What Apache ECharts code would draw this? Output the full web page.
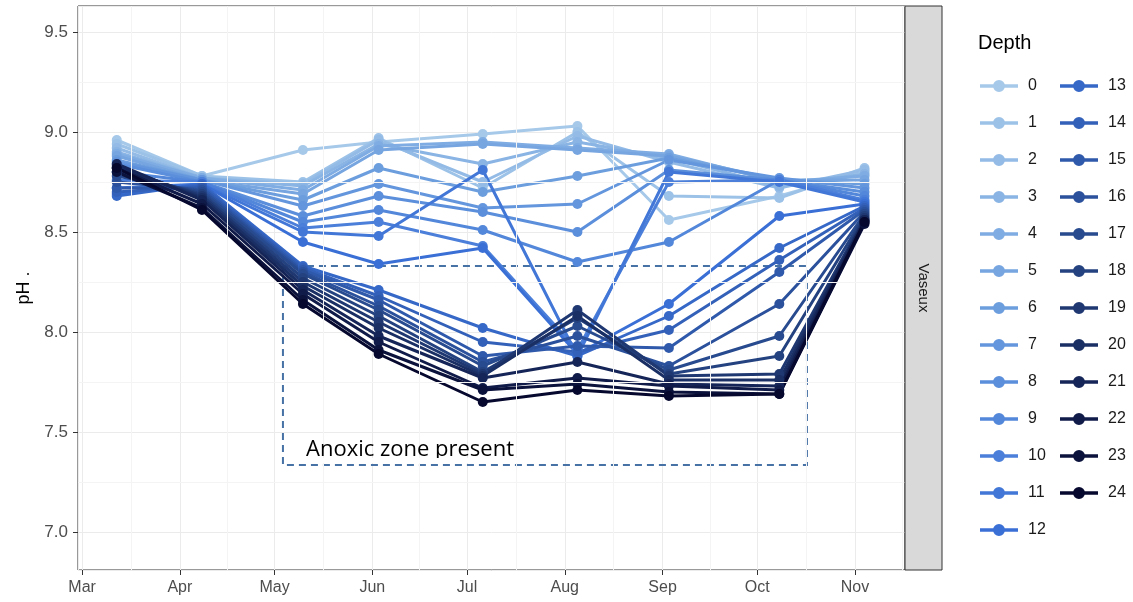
<!DOCTYPE html>
<html>
<head>
<meta charset="utf-8">
<script src="https://cdn.jsdelivr.net/npm/echarts@6/dist/echarts.min.js"></script>
<style>
  html, body { margin: 0; padding: 0; background: #fff; }
  #main { width: 1133px; height: 602px; }
</style>
</head>
<body>
<div id="main"></div>
<script>
// sampling dates (x axis)
var sampleDates = ['2019-03-12', '2019-04-08', '2019-05-10', '2019-06-03', '2019-07-06',
                   '2019-08-05', '2019-09-03', '2019-10-08', '2019-11-04'];
var depths = ['0','1','2','3','4','5','6','7','8','9','10','11','12',
              '13','14','15','16','17','18','19','20','21','22','23','24'];
var monthTicks = ['2019-03-01','2019-04-01','2019-05-01','2019-06-01','2019-07-01',
                  '2019-08-01','2019-09-01','2019-10-01','2019-11-01','2019-12-01'];
var yMinorLines = [7.25, 7.75, 8.25, 8.75, 9.25];

// pH by depth, one value per sampling date
var ph0  = [8.96, 8.78, 8.91, 8.95, 8.99, 9.03, 8.56, 8.68, 8.80];
var ph1  = [8.94, 8.78, 8.75, 8.97, 8.72, 9.00, 8.68, 8.67, 8.82];
var ph2  = [8.92, 8.77, 8.74, 8.96, 8.75, 8.98, 8.85, 8.72, 8.81];
var ph3  = [8.90, 8.77, 8.73, 8.94, 8.84, 8.95, 8.87, 8.73, 8.79];
var ph4  = [8.89, 8.77, 8.71, 8.93, 8.95, 8.92, 8.89, 8.75, 8.78];
var ph5  = [8.88, 8.76, 8.69, 8.91, 8.94, 8.91, 8.88, 8.76, 8.76];
var ph6  = [8.86, 8.76, 8.66, 8.82, 8.70, 8.78, 8.87, 8.76, 8.74];
var ph7  = [8.85, 8.76, 8.63, 8.74, 8.62, 8.64, 8.86, 8.77, 8.72];
var ph8  = [8.84, 8.75, 8.58, 8.68, 8.60, 8.50, 8.81, 8.76, 8.70];
var ph9  = [8.80, 8.75, 8.55, 8.61, 8.51, 8.35, 8.45, 8.76, 8.68];
var ph10 = [8.76, 8.75, 8.52, 8.55, 8.43, 7.91, 8.75, 8.76, 8.66];
var ph11 = [8.72, 8.74, 8.50, 8.48, 8.81, 7.88, 8.80, 8.75, 8.65];
var ph12 = [8.69, 8.74, 8.45, 8.34, 8.42, 7.89, 8.14, 8.58, 8.64];
var ph13 = [8.68, 8.74, 8.33, 8.21, 8.02, 7.88, 8.08, 8.42, 8.63];
var ph14 = [8.70, 8.73, 8.32, 8.18, 7.95, 7.90, 8.01, 8.36, 8.62];
var ph15 = [8.72, 8.72, 8.31, 8.16, 7.88, 7.93, 7.92, 8.30, 8.61];
var ph16 = [8.75, 8.71, 8.30, 8.13, 7.85, 7.98, 7.83, 8.14, 8.60];
var ph17 = [8.78, 8.70, 8.29, 8.11, 7.83, 8.03, 7.81, 7.98, 8.59];
var ph18 = [8.80, 8.69, 8.27, 8.08, 7.80, 8.07, 7.79, 7.88, 8.58];
var ph19 = [8.82, 8.68, 8.25, 8.05, 7.79, 8.11, 7.78, 7.79, 8.57];
var ph20 = [8.83, 8.67, 8.23, 8.02, 7.78, 8.08, 7.76, 7.76, 8.56];
var ph21 = [8.84, 8.66, 8.21, 7.98, 7.77, 7.85, 7.74, 7.73, 8.56];
var ph22 = [8.82, 8.64, 8.19, 7.95, 7.72, 7.77, 7.73, 7.71, 8.55];
var ph23 = [8.80, 8.62, 8.16, 7.91, 7.71, 7.74, 7.70, 7.69, 8.54];
var ph24 = [8.82, 8.61, 8.14, 7.89, 7.65, 7.71, 7.68, 7.69, 8.55];

var phByDepth = [ph0, ph1, ph2, ph3, ph4, ph5, ph6, ph7, ph8, ph9, ph10, ph11, ph12,
                 ph13, ph14, ph15, ph16, ph17, ph18, ph19, ph20, ph21, ph22, ph23, ph24];

// anoxic zone box
var anoxicFrom = '2019-05-03 16:00', anoxicTo = '2019-10-16 18:00';
var anoxicTop = 8.33, anoxicBottom = 7.335;

function toTime(s) {
    var p = s.split(/[- :]/);
    return new Date(+p[0], +p[1] - 1, +p[2], +(p[3] || 0), +(p[4] || 0)).getTime();
}

// light -> dark blue gradient like the ggplot scale
function depthColor(i) {
    var stops = [[0, [166, 201, 234]], [6, [108, 158, 222]], [12, [58, 111, 214]],
                 [18, [36, 66, 127]], [24, [6, 8, 46]]];
    for (var k = 0; k < stops.length - 1; k++) {
        if (i <= stops[k + 1][0]) {
            var t = (i - stops[k][0]) / (stops[k + 1][0] - stops[k][0]);
            var a = stops[k][1], b = stops[k + 1][1];
            return 'rgb(' + [0, 1, 2].map(function (c) { return Math.round(a[c] + (b[c] - a[c]) * t); }).join(',') + ')';
        }
    }
}

var chart = echarts.init(document.getElementById('main'));

var minorLines = [];
for (var m = 0; m < monthTicks.length - 1; m++) {
    minorLines.push({ xAxis: (toTime(monthTicks[m]) + toTime(monthTicks[m + 1])) / 2 });
}
yMinorLines.forEach(function (v) { minorLines.push({ yAxis: v }); });

var series = [{
    name: '_minor',
    type: 'line',
    data: [],
    silent: true,
    z: 1,
    markLine: {
        silent: true,
        symbol: 'none',
        animation: false,
        label: { show: false },
        lineStyle: { color: '#f4f4f4', width: 1, type: 'solid' },
        data: minorLines
    }
}];

depths.forEach(function (d, i) {
    series.push({
        name: d,
        type: 'line',
        z: 2,
        symbol: 'circle',
        symbolSize: 10,
        showAllSymbol: true,
        animation: false,
        color: depthColor(i),
        lineStyle: { width: 3 },
        data: sampleDates.map(function (s, j) { return [toTime(s), phByDepth[i][j]]; })
    });
});

series.push({
    name: '_anoxic',
    type: 'line',
    data: [],
    z: 5,
    silent: true,
    markArea: {
        silent: true,
        itemStyle: { color: 'rgba(0,0,0,0)', borderColor: '#4672a6', borderWidth: 2, borderType: [7, 5] },
        label: { show: false },
        data: [[{ xAxis: toTime(anoxicFrom), yAxis: anoxicTop }, { xAxis: toTime(anoxicTo), yAxis: anoxicBottom }]]
    }
});

// legend key: thick line with a dot in the middle
var keyIcon = 'path://M0,4.2 L38,4.2 L38,7.8 L0,7.8 Z M13,6 A6,6 0 1,1 25,6 A6,6 0 1,1 13,6 Z';
var legendText = { fontFamily: 'Liberation Sans', fontSize: 16, color: '#1a1a1a', padding: [0, 0, 0, 5] };

var option = {
    animation: false,
    backgroundColor: '#fff',
    textStyle: { fontFamily: 'Liberation Sans' },
    grid: {
        left: 78, top: 6, width: 827, height: 564,
        show: true, borderColor: '#333', borderWidth: 1, backgroundColor: '#fff'
    },
    xAxis: {
        type: 'time',
        min: toTime('2019-02-27 17:00'),
        max: toTime('2019-11-16 20:00'),
        splitNumber: 9,
        axisLine: { show: false },
        axisTick: { show: true, length: 5, lineStyle: { color: '#333' } },
        axisLabel: { formatter: '{MMM}', color: '#4d4d4d', fontSize: 16, margin: 10 },
        splitLine: { show: true, lineStyle: { color: '#ebebeb', width: 1 } }
    },
    yAxis: {
        type: 'value',
        min: 6.81,
        max: 9.63,
        splitNumber: 5,
        name: 'pH .',
        nameLocation: 'middle',
        nameGap: 45,
        nameRotate: 90,
        nameTextStyle: { color: '#000', fontSize: 18 },
        axisLine: { show: false },
        axisTick: { show: true, length: 5, lineStyle: { color: '#333' } },
        axisLabel: {
            showMinLabel: false, showMaxLabel: false,
            color: '#4d4d4d', fontSize: 17, margin: 10,
            formatter: function (v) { return v.toFixed(1); }
        },
        splitLine: { show: true, lineStyle: { color: '#ebebeb', width: 1 } }
    },
    legend: [{
        data: depths.slice(0, 13),
        orient: 'vertical', left: 980, top: 78, padding: 0,
        icon: keyIcon,
        itemWidth: 38, itemHeight: 12, itemGap: 21,
        textStyle: legendText
    }, {
        data: depths.slice(13),
        orient: 'vertical', left: 1060, top: 78, padding: 0,
        icon: keyIcon,
        itemWidth: 38, itemHeight: 12, itemGap: 21,
        textStyle: legendText
    }],
    graphic: [
        { type: 'rect', shape: { x: 905, y: 6, width: 37, height: 564 },
          style: { fill: '#d9d9d9', stroke: '#333', lineWidth: 1 }, z: 10 },
        { type: 'text', x: 923.5, y: 288, rotation: -Math.PI / 2, z: 11,
          style: { text: 'Vaseux', fill: '#1a1a1a', font: '15px "Liberation Sans"', align: 'center', verticalAlign: 'middle' } },
        { type: 'text', x: 978, y: 43, z: 11,
          style: { text: 'Depth', fill: '#000', font: '20px "Liberation Sans"', align: 'left', verticalAlign: 'middle' } },
        { type: 'text', x: 306, y: 450, z: 11,
          style: { text: 'Anoxic zone present', fill: '#000', font: '22px "Open Sans"', align: 'left', verticalAlign: 'middle' } },
        { type: 'rect', shape: { x: 300, y: 458, width: 226, height: 5 }, z: 12,
          style: { fill: '#fff' } }
    ],
    series: series
};

chart.setOption(option);
</script>
</body>
</html>
